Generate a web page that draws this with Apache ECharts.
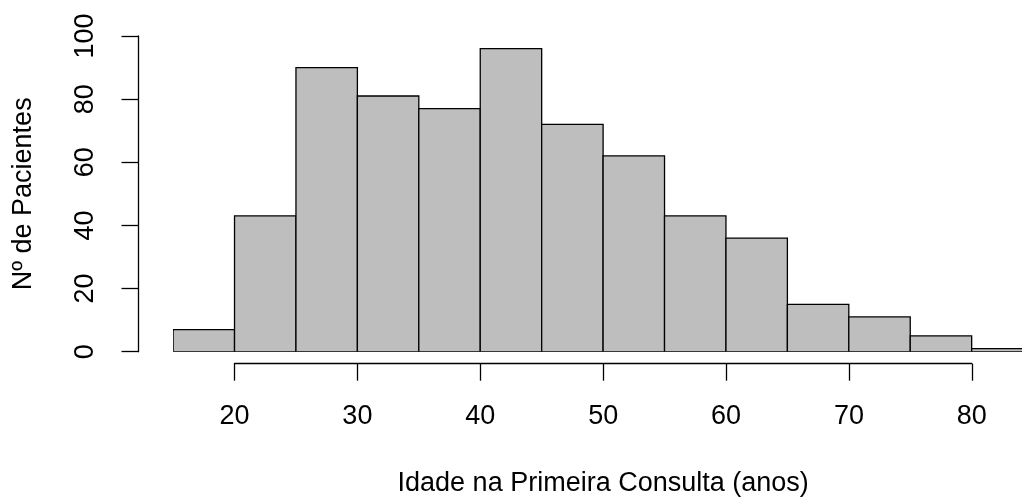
<!DOCTYPE html>
<html>
<head>
<meta charset="utf-8">
<script src="https://cdn.jsdelivr.net/npm/echarts@6/dist/echarts.min.js"></script>
<style>html,body{margin:0;padding:0;background:#fff;}#c{width:1022px;height:497px;}</style>
</head>
<body>
<div id="c"></div>
<script>
const binStarts = [15,20,25,30,35,40,45,50,55,60,65,70,75,80];
const binWidth = 5;
const counts = [7,43,90,81,77,96,72,62,43,36,15,11,5,1];
const xTicks = [20,30,40,50,60,70,80];
const yTicks = [0,20,40,60,80,100];
const xTitle = 'Idade na Primeira Consulta (anos)';
const yTitle = 'Nº de Pacientes';

const data = binStarts.map((s,i)=>[s, s+binWidth, counts[i]]);
const font = 'Liberation Sans, Arial, Helvetica, sans-serif';
const chart = echarts.init(document.getElementById('c'), null, {renderer:'canvas'});
chart.setOption({
  animation:false,
  backgroundColor:'#ffffff',
  grid:[
    {left:173.1, top:36, width:860, height:315.7, containLabel:false, outerBoundsMode:'none'},
    {left:234.5, top:36, width:737.3, height:315.7, containLabel:false, outerBoundsMode:'none'}
  ],
  xAxis:[
    {gridIndex:0, type:'value', min:15, max:85, show:false},
    {gridIndex:1, type:'value', min:xTicks[0], max:xTicks[xTicks.length-1], interval:10, position:'bottom', offset:12,
     axisLine:{show:true, onZero:false, lineStyle:{color:'#000', width:1.3}},
     axisTick:{show:true, length:17, lineStyle:{color:'#000', width:1.3}},
     splitLine:{show:false},
     axisLabel:{color:'#000', fontSize:27, fontFamily:font, margin:39},
     name:xTitle, nameLocation:'middle', nameGap:106,
     nameTextStyle:{color:'#000', fontSize:27, fontFamily:font}}
  ],
  yAxis:[
    {gridIndex:0, type:'value', min:yTicks[0], max:yTicks[yTicks.length-1], interval:20, offset:34.6,
     axisLine:{show:true, onZero:false, lineStyle:{color:'#000', width:1.3}},
     axisTick:{show:true, length:17, lineStyle:{color:'#000', width:1.3}},
     splitLine:{show:false},
     axisLabel:{color:'#000', fontSize:27, fontFamily:font, rotate:90, margin:39},
     name:yTitle, nameLocation:'middle', nameGap:101,
     nameTextStyle:{color:'#000', fontSize:27, fontFamily:font}},
    {gridIndex:1, type:'value', min:0, max:100, show:false}
  ],
  series:[{
    type:'custom', xAxisIndex:0, yAxisIndex:0, clip:true,
    data:data,
    renderItem:function(params, api){
      const p0 = api.coord([api.value(0), 0]);
      const p1 = api.coord([api.value(1), api.value(2)]);
      return {type:'rect', shape:{x:p0[0], y:p1[1], width:p1[0]-p0[0], height:p0[1]-p1[1]},
        style:{fill:'#BEBEBE', stroke:'#000', lineWidth:1.3}};
    }
  }]
});
</script>
</body>
</html>
